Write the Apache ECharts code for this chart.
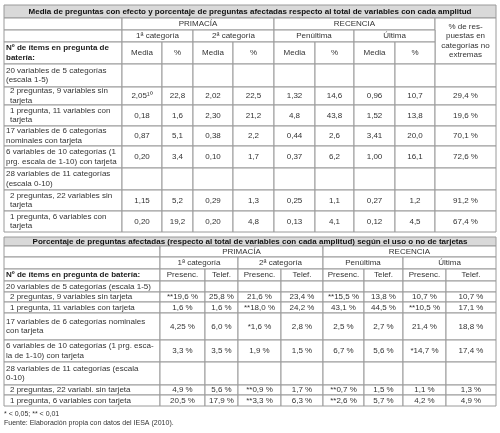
<!DOCTYPE html>
<html><head><meta charset="utf-8">
<script src="https://cdn.jsdelivr.net/npm/echarts@6/dist/echarts.min.js"></script>
<style>html,body{margin:0;padding:0;background:#fff}#c{width:500px;height:433px}</style>
</head><body><div id="c"></div>
<script>
const title1 = "Media de preguntas con efecto y porcentaje de preguntas afectadas respecto al total de variables con cada amplitud";
const title2 = "Porcentaje de preguntas afectadas (respecto al total de variables con cada amplitud) según el uso o no de tarjetas";
const groups = ["PRIMACÍA", "RECENCIA"];
const subGroups = ["1ª categoría", "2ª categoría", "Penúltima", "Última"];
const t1ColHeads = ["Media", "%", "Media", "%", "Media", "%", "Media", "%"];
const t1LastHead = "% de res-\npuestas en\ncategorías no\nextremas";
const t2ColHeads = ["Presenc.", "Telef.", "Presenc.", "Telef.", "Presenc.", "Telef.", "Presenc.", "Telef."];
const itemsHead = "Nº de ítems en pregunta de\nbatería:";
const itemsHead2 = "Nº de ítems en pregunta de batería:";
const rowLabels1 = ["20 variables de 5 categorías\n(escala 1-5)", "2 preguntas, 9 variables sin\ntarjeta", "1 pregunta, 11 variables con\ntarjeta", "17 variables de 6 categorías\nnominales con tarjeta", "6 variables de 10 categorías (1\nprg. escala de 1-10) con tarjeta", "28 variables de 11 categorías\n(escala 0-10)", "2 preguntas, 22 variables sin\ntarjeta", "1 pregunta, 6 variables con\ntarjeta"];
const indent1 = [0,1,1,0,0,0,1,1];
const values1 = [
  null,
  ["2,05¹⁰","22,8","2,02","22,5","1,32","14,6","0,96","10,7","29,4 %"],
  ["0,18","1,6","2,30","21,2","4,8","43,8","1,52","13,8","19,6 %"],
  ["0,87","5,1","0,38","2,2","0,44","2,6","3,41","20,0","70,1 %"],
  ["0,20","3,4","0,10","1,7","0,37","6,2","1,00","16,1","72,6 %"],
  null,
  ["1,15","5,2","0,29","1,3","0,25","1,1","0,27","1,2","91,2 %"],
  ["0,20","19,2","0,20","4,8","0,13","4,1","0,12","4,5","67,4 %"]
];
const rowLabels2 = ["20 variables de 5 categorías (escala 1-5)", "2 preguntas, 9 variables sin tarjeta", "1 pregunta, 11 variables con tarjeta", "17 variables de 6 categorías nominales\ncon tarjeta", "6 variables de 10 categorías (1 prg. esca-\nla de 1-10) con tarjeta", "28 variables de 11 categorías (escala\n0-10)", "2 preguntas, 22 variabl. sin tarjeta", "1 pregunta, 6 variables con tarjeta"];
const indent2 = [0,1,1,0,0,0,1,1];
const values2 = [
  null,
  ["**19,6 %","25,8 %","21,6 %","23,4 %","**15,5 %","13,8 %","10,7 %","10,7 %"],
  ["1,6 %","1,6 %","**18,0 %","24,2 %","43,1 %","44,5 %","**10,5 %","17,1 %"],
  ["4,25 %","6,0 %","*1,6 %","2,8 %","2,5 %","2,7 %","21,4 %","18,8 %"],
  ["3,3 %","3,5 %","1,9 %","1,5 %","6,7 %","5,6 %","*14,7 %","17,4 %"],
  null,
  ["4,9 %","5,6 %","**0,9 %","1,7 %","**0,7 %","1,5 %","1,1 %","1,3 %"],
  ["20,5 %","17,9 %","**3,3 %","6,3 %","**2,6 %","5,7 %","4,2 %","4,9 %"]
];
const notes = ["* < 0,05; ** < 0,01", "Fuente: Elaboración propia con datos del IESA (2010)."];

// layout
const FONT = '"Liberation Sans", Arial, sans-serif';
const X1 = [4,122,162,193,233,274,315,354,395,435,496];
const Y1 = [5,18,30,42,64,87,105,126,146,168,190,211,232];
const X2 = [4,160,205,238,281,323,364,403,446,496];
const Y2 = [237,246,257,269,281,292,302,313,340,362,385,395,406];
const els = [];
function cell(x0,y0,x1,y1,text,o){
  o=o||{};
  els.push({type:'rect',shape:{x:x0,y:y0,width:x1-x0,height:y1-y0},
    style:{fill:o.fill||'#fff',stroke:'#9a9a9a',lineWidth:1}});
  if(text!=null && text!==''){
    const left=o.align==='left';
    els.push({type:'text',x:left?x0+2+(o.indent||0):(x0+x1)/2,y:(y0+y1)/2,
      style:{text:text,fill:o.color||'#333',font:(o.bold?'bold ':'')+(o.size||8)+'px '+FONT,
        align:left?'left':'center',verticalAlign:'middle',lineHeight:o.lh||9.5}});
  }
}
// Table 1
cell(X1[0],Y1[0],X1[10],Y1[1],title1,{fill:'#d9d9d9',bold:true,color:'#111'});
cell(X1[0],Y1[1],X1[1],Y1[2],'');
cell(X1[0],Y1[2],X1[1],Y1[3],'');
cell(X1[0],Y1[3],X1[1],Y1[4],itemsHead,{align:'left',bold:true,color:'#222'});
cell(X1[1],Y1[1],X1[5],Y1[2],groups[0]);
cell(X1[5],Y1[1],X1[9],Y1[2],groups[1]);
cell(X1[9],Y1[1],X1[10],Y1[4],t1LastHead);
for(let i=0;i<4;i++) cell(X1[1+2*i],Y1[2],X1[3+2*i],Y1[3],subGroups[i]);
for(let i=0;i<8;i++) cell(X1[1+i],Y1[3],X1[2+i],Y1[4],t1ColHeads[i]);
rowLabels1.forEach((lab,r)=>{
  const y0=Y1[4+r],y1=Y1[5+r];
  cell(X1[0],y0,X1[1],y1,lab,{align:'left',indent:indent1[r]?4:0});
  for(let c=0;c<9;c++) cell(X1[1+c],y0,X1[2+c],y1,values1[r]?values1[r][c]:'');
});
// Table 2
cell(X2[0],Y2[0],X2[9],Y2[1],title2,{fill:'#d9d9d9',bold:true,color:'#111'});
cell(X2[0],Y2[1],X2[1],Y2[2],'');
cell(X2[0],Y2[2],X2[1],Y2[3],'');
cell(X2[0],Y2[3],X2[1],Y2[4],itemsHead2,{align:'left',bold:true,color:'#222'});
cell(X2[1],Y2[1],X2[5],Y2[2],groups[0]);
cell(X2[5],Y2[1],X2[9],Y2[2],groups[1]);
for(let i=0;i<4;i++) cell(X2[1+2*i],Y2[2],X2[3+2*i],Y2[3],subGroups[i]);
for(let i=0;i<8;i++) cell(X2[1+i],Y2[3],X2[2+i],Y2[4],t2ColHeads[i]);
rowLabels2.forEach((lab,r)=>{
  const y0=Y2[4+r],y1=Y2[5+r];
  cell(X2[0],y0,X2[1],y1,lab,{align:'left',indent:indent2[r]?4:0});
  for(let c=0;c<8;c++) cell(X2[1+c],y0,X2[2+c],y1,values2[r]?values2[r][c]:'');
});
notes.forEach((n,i)=>els.push({type:'text',x:4,y:414+i*9.5,
  style:{text:n,fill:'#333',font:'7px '+FONT,align:'left',verticalAlign:'middle'}}));

const chart = echarts.init(document.getElementById('c'),null,{renderer:'canvas'});
chart.setOption({animation:false,graphic:{elements:els}});
</script></body></html>
